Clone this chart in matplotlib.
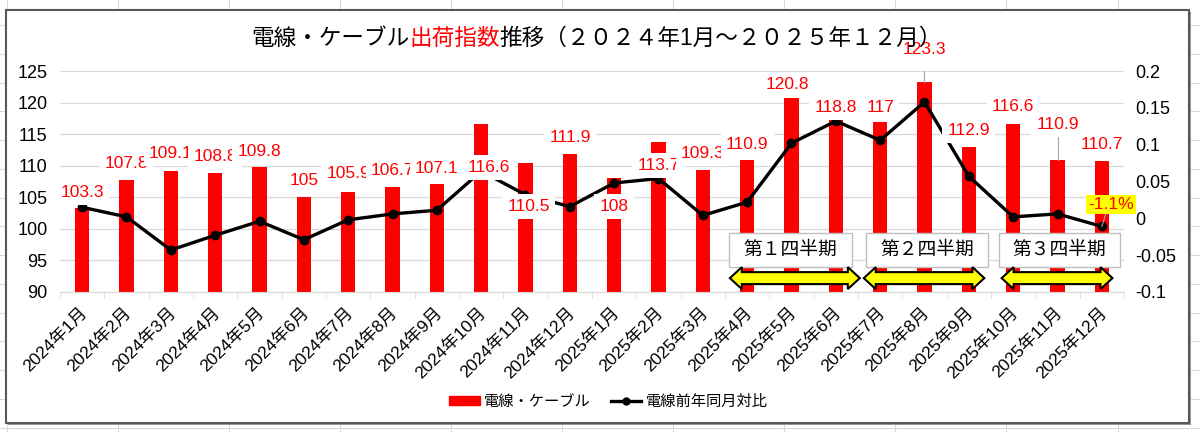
import matplotlib
matplotlib.use('Agg')
import matplotlib.pyplot as plt
import matplotlib.transforms as mtransforms
from matplotlib.patches import Rectangle, Polygon, Patch
from matplotlib.lines import Line2D
import numpy as np

plt.rcParams['font.family'] = ['Liberation Sans', 'Noto Sans CJK JP']

# ---- data ----
months = ['2024年1月', '2024年2月', '2024年3月', '2024年4月', '2024年5月', '2024年6月',
          '2024年7月', '2024年8月', '2024年9月', '2024年10月', '2024年11月', '2024年12月',
          '2025年1月', '2025年2月', '2025年3月', '2025年4月', '2025年5月', '2025年6月',
          '2025年7月', '2025年8月', '2025年9月', '2025年10月', '2025年11月', '2025年12月']
index_values = [103.3, 107.8, 109.1, 108.8, 109.8, 105.0, 105.9, 106.7, 107.1, 116.6, 110.5, 111.9,
                108.0, 113.7, 109.3, 110.9, 120.8, 118.8, 117.0, 123.3, 112.9, 116.6, 110.9, 110.7]
yoy_values = [0.015, 0.002, -0.043, -0.023, -0.004, -0.029, -0.002, 0.006, 0.011, 0.064, 0.032, 0.016,
              0.048, 0.054, 0.004, 0.022, 0.102, 0.132, 0.106, 0.158, 0.057, 0.002, 0.006, -0.011]
quarters = ['第１四半期', '第２四半期', '第３四半期']

# label placement (offsets from bar top, in index units) as the Excel chart had them moved
label_dy = [2.5, 2.6, 2.8, 2.7, 2.5, 2.7, 2.9, 2.6, 2.5, -6.9, -7.0, 2.5,
            -4.5, -3.7, 2.7, 2.5, 2.1, 0.45, 2.25, 5.1, 2.75, 2.75, 5.65, 2.7]
label_dx = [0, 0, 0, 0, 0, 0, 0, 0, 0, 0.17, 0.07, 0,
            0, 0, 0, 0, -0.1, 0, 0, 0, 0, 0, 0, 0]
leader_idx = [19, 22]
# quarter boxes / arrows (category positions, index-axis y)
box_x = [(14.59, 17.36), (17.69, 20.44), (20.67, 23.40)]
box_y = (93.9, 99.4)
arrow_x = [(14.61, 17.54), (17.63, 20.35), (20.74, 23.24)]
arrow_y = 92.2

RED = '#FF0000'

fig = plt.figure(figsize=(12, 4.32), dpi=100)
fig.patch.set_facecolor('white')

# spreadsheet cells behind the chart object
for xp in np.arange(6.5, 1200, 111.1):
    fig.add_artist(Line2D([xp / 1200] * 2, [0, 1], transform=fig.transFigure,
                          color='#D9D9D9', lw=0.8, zorder=-3))
for yp in np.arange(25, 432, 28.75):
    fig.add_artist(Line2D([0, 1], [1 - yp / 432] * 2, transform=fig.transFigure,
                          color='#D9D9D9', lw=0.8, zorder=-3))
fig.add_artist(Rectangle((8 / 1200, 1 - 425 / 432), 1183 / 1200, 413 / 432,
                         transform=fig.transFigure, fc='#9A9A9A', ec='none', zorder=-2.5))
fig.add_artist(Rectangle((6 / 1200, 1 - 423 / 432), 1183 / 1200, 413 / 432,
                         transform=fig.transFigure, fc='white', ec='#595959', lw=1.5, zorder=-2))

ax = fig.add_axes([60 / 1200, 1 - 292 / 432, 1064 / 1200, 221 / 432])
ax.set_facecolor('none')
x = np.arange(len(months))
ax.bar(x, index_values, width=0.33, color=RED, zorder=2)
ax.set_xlim(-0.5, len(months) - 0.5)
ax.set_ylim(90, 125)
ax.set_yticks(np.arange(90, 126, 5))
ax.grid(axis='y', color='#D9D9D9', lw=0.9)
ax.set_axisbelow(True)
for s in ['top', 'left', 'right']:
    ax.spines[s].set_visible(False)
ax.spines['bottom'].set_color('#D9D9D9')
ax.set_xticks(x)
ax.set_xticklabels(months, rotation=45, ha='right', va='top', rotation_mode='anchor', fontsize=12.5)
ax.set_xticks(np.arange(-0.5, len(months), 1), minor=True)
ax.tick_params(axis='x', which='major', length=0, pad=9)
ax.tick_params(axis='x', which='minor', length=4, color='#D9D9D9')
ax.tick_params(axis='y', length=0, labelsize=13, pad=9)
shift = mtransforms.ScaledTranslation(-0.03, 0, fig.dpi_scale_trans)
for lab in ax.get_xticklabels():
    lab.set_transform(lab.get_transform() + shift)

ax2 = ax.twinx()
ax2.set_ylim(-0.1, 0.2)
ax2.set_yticks([-0.1, -0.05, 0, 0.05, 0.1, 0.15, 0.2])
ax2.set_yticklabels(['-0.1', '-0.05', '0', '0.05', '0.1', '0.15', '0.2'])
ax2.tick_params(length=0, labelsize=13, pad=8)
for s in ax2.spines.values():
    s.set_visible(False)
ax2.plot(x, yoy_values, color='black', lw=2.4, marker='o', ms=6, zorder=3)

# leader lines for the labels that were pulled away
for i in leader_idx:
    ax2.plot([i, i], [index_values[i], index_values[i] + label_dy[i]], transform=ax.transData,
             color='#A6A6A6', lw=0.8, zorder=4)

# bar data labels (white boxes, later ones cover earlier ones)
for i, v in enumerate(index_values):
    ax2.text(i + label_dx[i], v + label_dy[i], f'{v:g}', transform=ax.transData,
             ha='center', va='center', color=RED, fontsize=12.5, zorder=5,
             bbox=dict(boxstyle='square,pad=0.3', fc='white', ec='none'))

# last month's y/y label
last = len(months) - 1
ax2.plot([last, last + 0.1], [yoy_values[last], 0.008], color='#A6A6A6', lw=0.8, zorder=5)
ax2.text(last + 0.2, 0.0188, f'{yoy_values[last] * 100:.1f}%', ha='center', va='center',
         color=RED, fontsize=12.5, zorder=6,
         bbox=dict(boxstyle='square,pad=0.12', fc='#FFFF00', ec='none'))

# quarter boxes and double arrows
hl, hb, hh = 0.27, 0.95, 1.74
for name, (bx0, bx1), (axx0, axx1) in zip(quarters, box_x, arrow_x):
    ax2.add_patch(Rectangle((bx0, box_y[0]), bx1 - bx0, box_y[1] - box_y[0], transform=ax.transData,
                            fc='white', ec='#BFBFBF', lw=1, zorder=6, clip_on=False))
    ax2.text((bx0 + bx1) / 2, (box_y[0] + box_y[1]) / 2, name, transform=ax.transData,
             ha='center', va='center', fontsize=13.5, color='black', zorder=7)
    yc = arrow_y
    pts = [(axx0, yc), (axx0 + hl, yc + hh), (axx0 + hl, yc + hb), (axx1 - hl, yc + hb),
           (axx1 - hl, yc + hh), (axx1, yc), (axx1 - hl, yc - hh), (axx1 - hl, yc - hb),
           (axx0 + hl, yc - hb), (axx0 + hl, yc - hh)]
    ax2.add_patch(Polygon(pts, closed=True, transform=ax.transData, fc='#FFFF00', ec='black',
                          lw=1.5, zorder=6, clip_on=False))

# title in three colour pieces, drawn over the data labels
t1 = fig.text(0.209, 0.912, '電線・ケーブル', fontsize=16.3, ha='left', va='center', zorder=10)
t2 = ax2.annotate('出荷指数', xy=(1, 0), xycoords=t1, ha='left', va='bottom',
                  fontsize=16.3, color=RED, annotation_clip=False, zorder=10)
ax2.annotate('推移（２０２４年1月～２０２５年１２月）', xy=(1, 0), xycoords=t2, ha='left', va='bottom',
             fontsize=16.3, annotation_clip=False, zorder=10)

handles = [Patch(color=RED),
           Line2D([], [], color='black', lw=2.4, marker='o', ms=5)]
fig.legend(handles, ['電線・ケーブル', '電線前年同月対比'], loc='center', bbox_to_anchor=(0.507, 0.069),
           ncol=2, frameon=False, fontsize=11, handlelength=2.0, handleheight=0.55,
           columnspacing=1.3, handletextpad=0.3)

fig.savefig('out.png', dpi=100)
